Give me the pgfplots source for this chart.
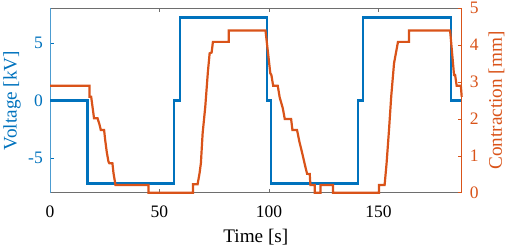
\documentclass[border=0pt]{standalone}
\usepackage{pgfplots}
\pgfplotsset{compat=1.18}
\usepackage{fontspec}
\setmainfont{Liberation Serif}
\definecolor{mblue}{RGB}{0,114,189}
\definecolor{mred}{RGB}{217,83,25}
\definecolor{mgray}{RGB}{110,110,110}
\begin{document}
\begin{tikzpicture}
\pgfplotsset{
  common/.style={
    at={(0,0)}, anchor=south west,
    scale only axis, width=411.7pt, height=184.4pt,
    xmin=0, xmax=188,
    tick align=inside,
    major tick length=4pt,
    clip=false,
    /pgf/number format/assume math mode=true,
    tick label style={font=\fontsize{17.5}{20}\selectfont},
    label style={font=\fontsize{19.2}{22}\selectfont},
  }
}
\begin{axis}[common,
  ymin=-8, ymax=8,
  axis y line*=left,
  xtick={0,50,100,150},
  xticklabels={0,50,100,150},
  ytick={-5,0,5},
  yticklabels={-5,0,5},
  x axis line style={mgray, line width=0.6pt},
  y axis line style={mblue!70, line width=0.6pt},
  xtick style={mgray, line width=0.5pt},
  ytick style={mblue, line width=0.5pt},
  xticklabel style={anchor=base, inner sep=0pt, yshift=-24.8pt, text=black},
  yticklabel style={anchor=east, inner sep=0pt, xshift=-7pt, text=mblue},
  xlabel={Time [s]},
  xlabel style={at={(axis description cs:0.5,-0.2674)}, anchor=base, inner sep=0pt},
  ylabel={Voltage [kV]},
  ylabel style={at={(axis description cs:-0.0923,0.5)}, anchor=center, rotate=0, text=mblue, inner sep=0pt},
]
\addplot[mblue, line width=2.2pt] coordinates {
(0,0) (17.1,0) (17.1,-7.2) (56.5,-7.2) (56.5,0) (59.3,0) (59.3,7.2)
(99.1,7.2) (99.1,0) (100.9,0) (100.9,-7.2) (140.8,-7.2) (140.8,0)
(142.9,0) (142.9,7.2) (183.0,7.2) (183.0,0) (188,0)
};
\end{axis}
\begin{axis}[common,
  ymin=0, ymax=5,
  axis y line*=right,
  axis x line=none,
  ytick={0,1,2,3,4,5},
  yticklabels={0,1,2,3,4,5},
  y axis line style={mred, line width=0.6pt},
  ytick style={mred, line width=0.5pt},
  yticklabel style={anchor=west, inner sep=0pt, xshift=8pt, text=mred},
  ylabel={Contraction [mm]},
  ylabel style={at={(axis description cs:1.0845,0.5)}, anchor=center, rotate=0, text=mred, inner sep=0pt},
]
\addplot[mred, line width=2.2pt] coordinates {
(0,2.90) (18.0,2.90) (18.0,2.60) (18.8,2.60) (19.5,2.29) (20.1,2.02)
(21.7,2.02) (22.6,1.85) (23.2,1.70) (24.7,1.70) (25.2,1.43) (25.9,1.11)
(26.7,0.84) (27.1,0.80) (28.5,0.80) (29.0,0.53) (29.9,0.21) (45.0,0.21)
(45.0,0) (65.3,0) (65.3,0.23) (67.4,0.23) (68.3,0.53) (68.9,0.80)
(69.7,1.61) (70.9,2.33) (72.1,3.28) (72.9,3.78) (73.8,3.80) (74.4,4.09)
(81.6,4.09) (81.6,4.40) (98.4,4.40) (100.6,3.24) (101.1,3.19) (101.9,2.90)
(104.0,2.90) (104.9,2.58) (106.3,2.29) (107.2,2.00) (110.1,2.00) (110.7,1.70)
(112.8,1.70) (113.9,1.38) (115.1,1.09) (116.3,0.78) (117.4,0.51) (118.6,0.51)
(118.9,0.21) (120.9,0.21) (120.9,0) (123.5,0) (123.5,0.21) (129.2,0.21)
(129.2,0) (150.2,0) (150.2,0.21) (152.8,0.21) (153.7,0.80) (154.8,1.70)
(155.8,2.60) (157.1,3.51) (158.0,3.80) (158.9,4.09) (163.9,4.09) (163.9,4.40)
(182.7,4.40) (184.5,3.19) (185.0,3.19) (185.7,2.90) (187.6,2.90) (188,2.60)
};
\end{axis}
\pgfresetboundingbox
\path (-50pt,-55.3pt) rectangle (460pt,192.7pt);
\end{tikzpicture}
\end{document}
